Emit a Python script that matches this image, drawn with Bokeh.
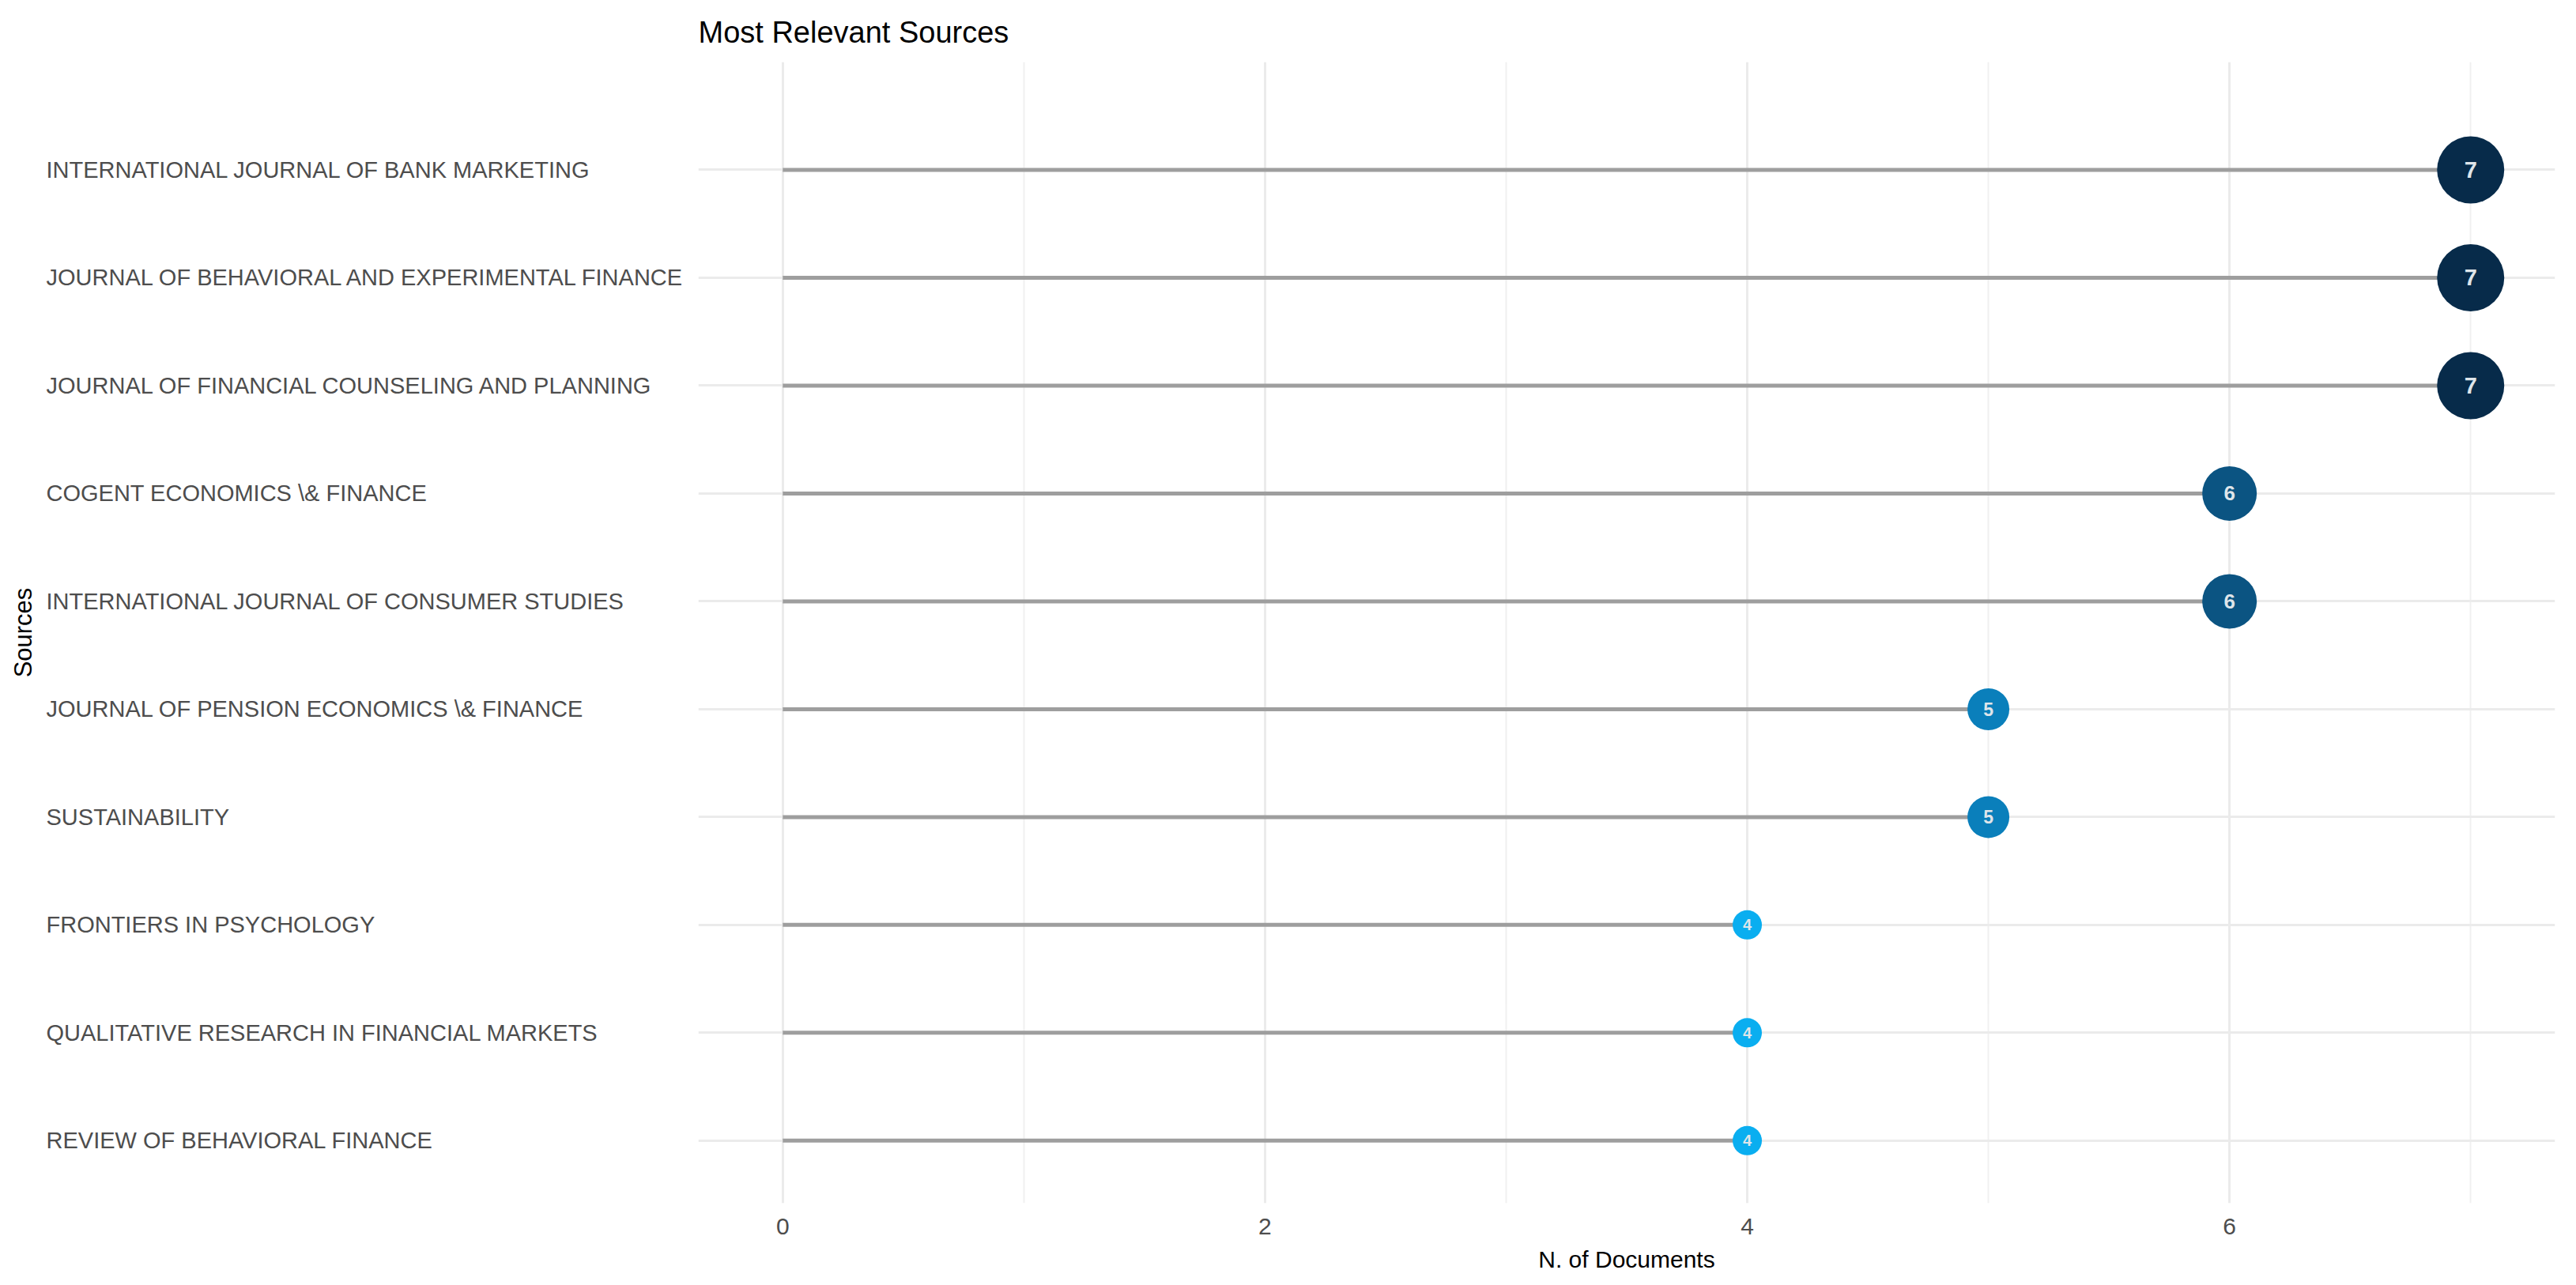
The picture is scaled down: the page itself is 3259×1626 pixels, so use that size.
import numpy as np
from bokeh.plotting import figure
from bokeh.models import Range1d, FixedTicker, ColumnDataSource
from bokeh.layouts import row
from bokeh.transform import linear_cmap
from bokeh.core.properties import value, field
from bokeh.embed import file_html
from bokeh.resources import INLINE

# ---- data ----
sources = [
    "INTERNATIONAL JOURNAL OF BANK MARKETING",
    "JOURNAL OF BEHAVIORAL AND EXPERIMENTAL FINANCE",
    "JOURNAL OF FINANCIAL COUNSELING AND PLANNING",
    "COGENT ECONOMICS \\& FINANCE",
    "INTERNATIONAL JOURNAL OF CONSUMER STUDIES",
    "JOURNAL OF PENSION ECONOMICS \\& FINANCE",
    "SUSTAINABILITY",
    "FRONTIERS IN PSYCHOLOGY",
    "QUALITATIVE RESEARCH IN FINANCIAL MARKETS",
    "REVIEW OF BEHAVIORAL FINANCE",
]
documents = [7, 7, 7, 6, 6, 5, 5, 4, 4, 4]
x_ticks = [0, 2, 4, 6]
x_minor = [1, 3, 5, 7]
title_text = "Most Relevant Sources"
x_label = "N. of Documents"
y_label = "Sources"

# ---- derived ----
n = len(sources)
ypos = list(range(n, 0, -1))
docs = np.array(documents, dtype=float)
sizes = 37 + 16 * (docs - 4)           # marker diameter scale
fsizes = [f"{int(20 + 3 * (d - 4))}px" for d in docs]
palette = ["#0aaef0", "#0a7fbb", "#0b5482", "#072b4a"]

src = ColumnDataSource(dict(
    source=sources, y=ypos, n=documents, zero=[0] * n,
    label=[str(v) for v in documents], size=sizes, fsize=fsizes,
))

yr = Range1d(0.42, 11.0)
TOP, BOTTOM = 77, 103
W, H = 3251, 1522 + BOTTOM
LW = 868
FONT = "Liberation Sans"

# ---- left label panel ----
left = figure(width=LW, height=H, x_range=Range1d(0, LW), y_range=yr,
              output_backend="svg", toolbar_location=None,
              x_axis_location=None, y_axis_location=None,
              min_border_left=0, min_border_right=0,
              min_border_top=TOP, min_border_bottom=BOTTOM)
left.outline_line_color = None
left.grid.visible = False
left.text(x=58, y="y", text="source", source=src,
          text_font=value(FONT), text_font_size="29px", text_color="#4d4d4d",
          text_align="left", text_baseline="middle")
left.text(x=[29], y=[(yr.start + yr.end) / 2], text=[y_label],
          angle=np.pi / 2, text_font=value(FONT), text_font_size="31px",
          text_color="#000000", text_align="center", text_baseline="middle")

# ---- main plot ----
p = figure(width=W - LW, height=H, x_range=Range1d(-0.35, 7.35), y_range=yr,
           output_backend="svg", toolbar_location=None, y_axis_location=None,
           min_border_left=15, min_border_right=19,
           min_border_top=TOP, min_border_bottom=BOTTOM, title=title_text)
p.outline_line_color = None
p.title.text_font = FONT
p.title.text_font_size = "38px"
p.title.text_font_style = "normal"
p.title.text_color = "#000000"
p.title.align = "left"
p.title.standoff = 34

xa = p.xaxis[0]
xa.ticker = FixedTicker(ticks=x_ticks, minor_ticks=x_minor)
xa.axis_line_color = None
xa.major_tick_line_color = None
xa.minor_tick_line_color = None
xa.major_tick_out = 0
xa.minor_tick_out = 0
xa.major_label_text_font = FONT
xa.major_label_text_font_size = "30px"
xa.major_label_text_color = "#4d4d4d"
xa.major_label_standoff = 19
xa.axis_label = x_label
xa.axis_label_text_font = FONT
xa.axis_label_text_font_size = "30px"
xa.axis_label_text_font_style = "normal"
xa.axis_label_text_color = "#000000"
xa.axis_label_standoff = 12

p.xgrid.grid_line_color = "#ebebeb"
p.xgrid.grid_line_width = 3
p.xgrid.minor_grid_line_color = "#f0f0f0"
p.xgrid.minor_grid_line_width = 2
p.ygrid.ticker = FixedTicker(ticks=ypos)
p.ygrid.grid_line_color = "#ebebeb"
p.ygrid.grid_line_width = 3

p.segment(x0="zero", y0="y", x1="n", y1="y", source=src,
          line_color="#9e9e9e", line_width=5)
p.scatter(x="n", y="y", size="size", source=src, line_color=None,
          fill_color=linear_cmap("n", palette, low=3.5, high=7.5))
p.text(x="n", y="y", text="label", source=src, text_font=value(FONT),
       text_font_size=field("fsize"), text_font_style="bold",
       text_color="#dfe5ea", text_align="center", text_baseline="middle")

layout = row(left, p)
open("out.html", "w").write(file_html(layout, INLINE))
